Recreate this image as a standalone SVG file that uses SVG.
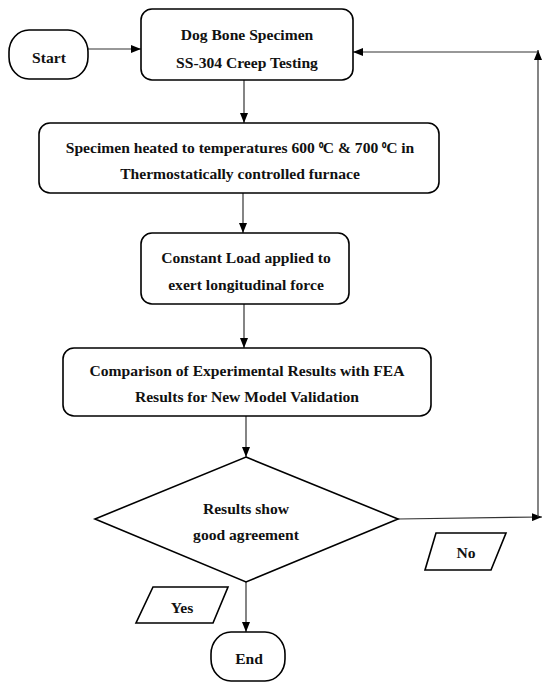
<svg xmlns="http://www.w3.org/2000/svg" width="550" height="689" viewBox="0 0 550 689">
<defs>
<marker id="ah" markerWidth="10" markerHeight="8" refX="10" refY="4" orient="auto" markerUnits="userSpaceOnUse">
<path d="M0,0 L10,4 L0,8 Z" fill="#000"/>
</marker>
<style>
.n{fill:#fff;stroke:#000;stroke-width:1.6}
.t{font-family:"Liberation Serif","Times New Roman",serif;font-weight:bold;font-size:15.6px;fill:#111;text-anchor:middle}
.c{fill:none;stroke:#333;stroke-width:1.2}
.sup{font-size:12.5px}
</style>
</defs>
<rect width="550" height="689" fill="#fff"/>
<g id="connectors">
<line class="c" x1="88" y1="49" x2="141" y2="49" marker-end="url(#ah)"/>
<line class="c" x1="244" y1="80" x2="244" y2="123" marker-end="url(#ah)"/>
<line class="c" x1="243" y1="193" x2="243" y2="233" marker-end="url(#ah)"/>
<line class="c" x1="244" y1="304" x2="244" y2="348" marker-end="url(#ah)"/>
<line class="c" x1="246" y1="416" x2="246" y2="457" marker-end="url(#ah)"/>
<line class="c" x1="246" y1="582" x2="246" y2="632" marker-end="url(#ah)"/>
<line class="c" x1="398" y1="519" x2="542" y2="517" marker-end="url(#ah)"/>
<line class="c" x1="538" y1="517" x2="538" y2="50" marker-end="url(#ah)"/>
<line class="c" x1="538" y1="52" x2="353" y2="52" marker-end="url(#ah)"/>
</g>
<g id="start">
<rect class="n" x="9" y="30" width="79" height="49" rx="20" ry="22"/>
<text class="t" x="49" y="63">Start</text>
</g>
<g id="box1">
<rect class="n" x="141" y="9" width="212" height="71" rx="11"/>
<text class="t" x="247" y="40">Dog Bone Specimen</text>
<text class="t" x="247" y="68">SS-304 Creep Testing</text>
</g>
<g id="box2">
<rect class="n" x="39" y="123" width="400" height="70" rx="11"/>
<text class="t" x="240" y="153">Specimen heated to temperatures 600 <tspan class="sup">⁰</tspan>C &amp; 700 <tspan class="sup">⁰</tspan>C in</text>
<text class="t" x="240" y="179">Thermostatically controlled furnace</text>
</g>
<g id="box3">
<rect class="n" x="141" y="233" width="208" height="71" rx="11"/>
<text class="t" x="246" y="263">Constant Load applied to</text>
<text class="t" x="246" y="290">exert longitudinal force</text>
</g>
<g id="box4">
<rect class="n" x="63" y="348" width="368" height="68" rx="11"/>
<text class="t" x="247" y="376">Comparison of Experimental Results with FEA</text>
<text class="t" x="247" y="402">Results for New Model Validation</text>
</g>
<g id="decision">
<polygon class="n" points="246,457 398,519 246,582 95,519"/>
<text class="t" x="246" y="514">Results show</text>
<text class="t" x="246" y="540">good agreement</text>
</g>
<g id="no">
<polygon class="n" points="436,533 506,533 491,570 425,570"/>
<text class="t" x="466" y="558">No</text>
</g>
<g id="yes">
<polygon class="n" points="153,587 228,587 213,623 136,623"/>
<text class="t" x="182" y="613">Yes</text>
</g>
<g id="end">
<rect class="n" x="211" y="632" width="74" height="49" rx="20" ry="22"/>
<text class="t" x="249" y="664">End</text>
</g>
</svg>
